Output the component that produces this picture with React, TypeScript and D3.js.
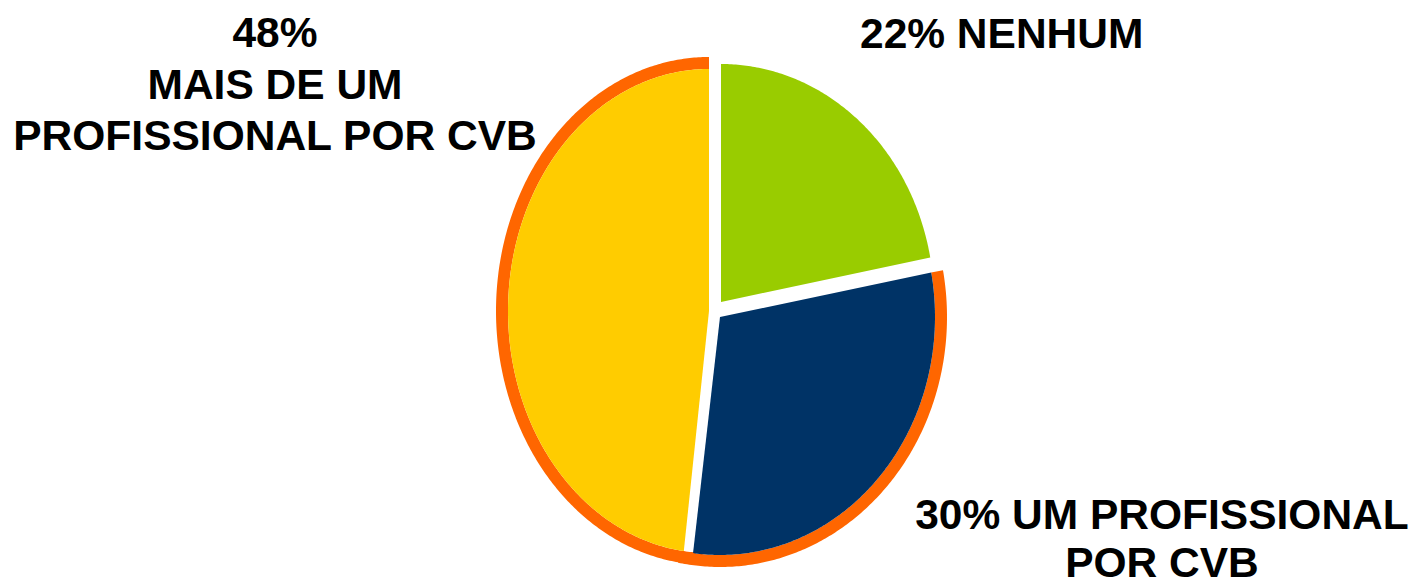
import React from "react";
import * as d3 from "d3";

// ---- data ----
const categories = ["NENHUM", "UM PROFISSIONAL POR CVB", "MAIS DE UM PROFISSIONAL POR CVB"];
const values = [22, 30, 48];
const colors = ["#99CC00", "#003366", "#FFCC00"];
const labelLines = [
  ["22% NENHUM"],
  ["30% UM PROFISSIONAL", "POR CVB"],
  ["48%", "MAIS DE UM", "PROFISSIONAL POR CVB"],
];
const outlineColor = "#FF6600";

// ---- layout ----
const W = 1414;
const H = 582;
const sliceGeom = [
  { cx: 721, cy: 302, rx: 213, ry: 238, ring: false },
  { cx: 720, cy: 317, rx: 215, ry: 238, ring: true },
  { cx: 709, cy: 311, rx: 201, ry: 242, ring: true },
];
const ringWidth = 12;
const ringOverlap = 0.06;
const labelLayout = [
  { x: 860, anchor: "start", y0: 48, dy: 51.5 },
  { x: 1162, anchor: "middle", y0: 529, dy: 47.5 },
  { x: 275, anchor: "middle", y0: 47, dy: 51.5 },
];

const pt = (g, rx, ry, a) => [g.cx + rx * Math.sin(a), g.cy - ry * Math.cos(a)];
const arcPts = (g, rx, ry, a0, a1) => {
  const n = Math.max(2, Math.ceil(Math.abs(a1 - a0) / 0.01));
  return d3.range(n + 1).map((i) => pt(g, rx, ry, a0 + ((a1 - a0) * i) / n));
};
const line = d3.line();

function sectorPath(g, a0, a1) {
  return line([[g.cx, g.cy], ...arcPts(g, g.rx, g.ry, a0, a1)]) + "Z";
}
function ringPath(g, a0, a1, w) {
  const outer = arcPts(g, g.rx + w, g.ry + w, a0, a1);
  const inner = arcPts(g, g.rx, g.ry, a1, a0);
  return line([...outer, ...inner]) + "Z";
}

export default function App() {
  const pie = d3.pie<number>().sort(null).value((d) => d).startAngle(0).endAngle(2 * Math.PI);
  const arcs = pie(values);
  const last = arcs.length - 1;

  return (
    <svg
      width={W}
      height={H}
      style={{ position: "absolute", left: 0, top: 0, background: "#fff" }}
      fontFamily="'Liberation Sans', Arial, Helvetica, sans-serif"
      fontWeight="bold"
    >
      <rect width={W} height={H} fill="#fff" />
      {arcs.map((a, i) => {
        const g = sliceGeom[i];
        if (!g.ring) return null;
        const a0 = i === last ? a.startAngle - ringOverlap : a.startAngle;
        const a1 = i === last ? a.endAngle : a.endAngle + ringOverlap;
        return <path key={"r" + i} d={ringPath(g, a0, a1, ringWidth)} fill={outlineColor} />;
      })}
      {arcs.map((a, i) => (
        <path key={"s" + i} d={sectorPath(sliceGeom[i], a.startAngle, a.endAngle)} fill={colors[i]}>
          <title>{categories[i]}</title>
        </path>
      ))}
      {labelLines.map((lines, i) => {
        const L = labelLayout[i];
        return (
          <text key={"t" + i} fontSize={42.5} fill="#000" textAnchor={L.anchor}>
            {lines.map((s, j) => (
              <tspan key={j} x={L.x} y={L.y0 + j * L.dy}>
                {s}
              </tspan>
            ))}
          </text>
        );
      })}
    </svg>
  );
}
